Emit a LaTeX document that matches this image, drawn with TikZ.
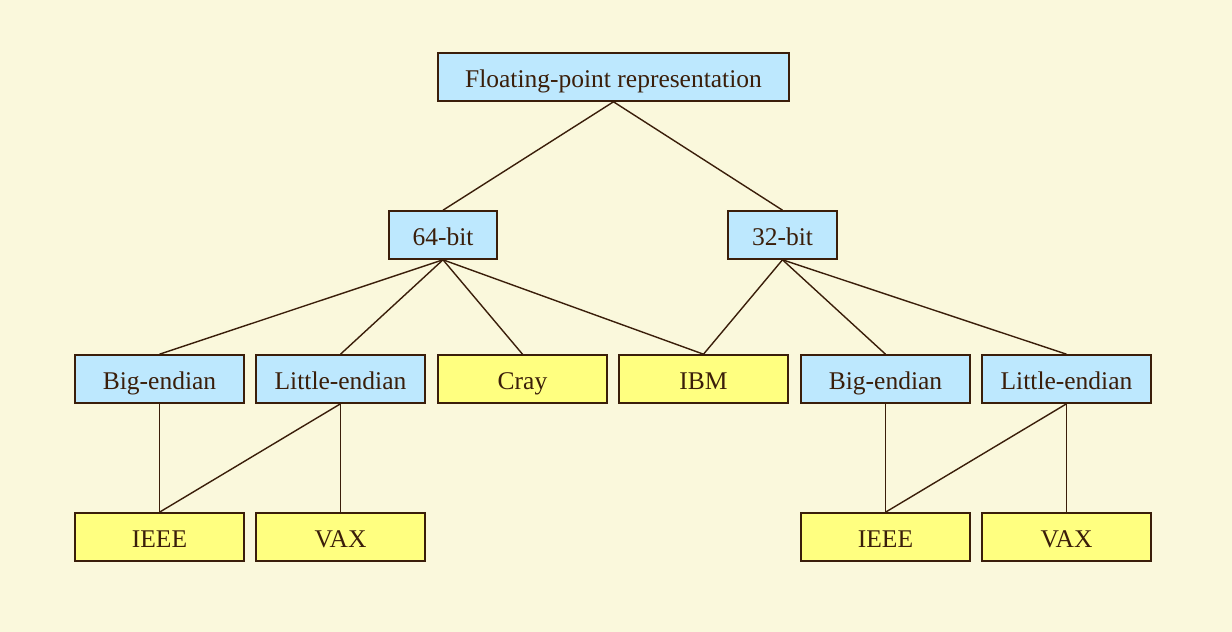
\documentclass[tikz,border=0pt]{standalone}
\usepackage{fontspec}
\setmainfont{Liberation Serif}
\definecolor{bg}{HTML}{FAF8DC}
\definecolor{bluebox}{HTML}{BDE8FE}
\definecolor{yellowbox}{HTML}{FFFF80}
\definecolor{ink}{HTML}{3A1E0A}
\begin{document}
\begin{tikzpicture}[x=1pt,y=-1pt,
  box/.style={draw=ink,line width=1.6pt,inner sep=0pt,minimum height=48pt,text=ink,
    text height=21pt,text depth=0pt,
    font=\fontsize{25.5}{30}\selectfont},
  bbox/.style={box,fill=bluebox},
  ybox/.style={box,fill=yellowbox},
  link/.style={draw=ink,line width=1.4pt}]
\fill[bg] (0,0) rectangle (1232,632);
\useasboundingbox (0,0) rectangle (1232,632);
\node[bbox,minimum width=351pt] (root) at (613.5,77) {Floating-point representation};
\node[bbox,minimum width=108pt] (b64) at (443,235) {64-bit};
\node[bbox,minimum width=109pt] (b32) at (782.5,235) {32-bit};
\node[bbox,minimum width=169pt] (be1) at (159.5,379) {Big-endian};
\node[bbox,minimum width=169pt] (le1) at (340.5,379) {Little-endian};
\node[ybox,minimum width=169pt] (cray) at (522.5,379) {Cray};
\node[ybox,minimum width=169pt] (ibm) at (703.5,379) {IBM};
\node[bbox,minimum width=169pt] (be2) at (885.5,379) {Big-endian};
\node[bbox,minimum width=169pt] (le2) at (1066.5,379) {Little-endian};
\node[ybox,minimum width=169pt] (ieee1) at (159.5,537) {IEEE};
\node[ybox,minimum width=169pt] (vax1) at (340.5,537) {VAX};
\node[ybox,minimum width=169pt] (ieee2) at (885.5,537) {IEEE};
\node[ybox,minimum width=169pt] (vax2) at (1066.5,537) {VAX};
\path[link] (root.south) -- (b64.north);
\path[link] (root.south) -- (b32.north);
\path[link] (b64.south) -- (be1.north);
\path[link] (b64.south) -- (le1.north);
\path[link] (b64.south) -- (cray.north);
\path[link] (b64.south) -- (ibm.north);
\path[link] (b32.south) -- (ibm.north);
\path[link] (b32.south) -- (be2.north);
\path[link] (b32.south) -- (le2.north);
\path[link] (be1.south) -- (ieee1.north);
\path[link] (le1.south) -- (ieee1.north);
\path[link] (le1.south) -- (vax1.north);
\path[link] (be2.south) -- (ieee2.north);
\path[link] (le2.south) -- (ieee2.north);
\path[link] (le2.south) -- (vax2.north);
\end{tikzpicture}
\end{document}
